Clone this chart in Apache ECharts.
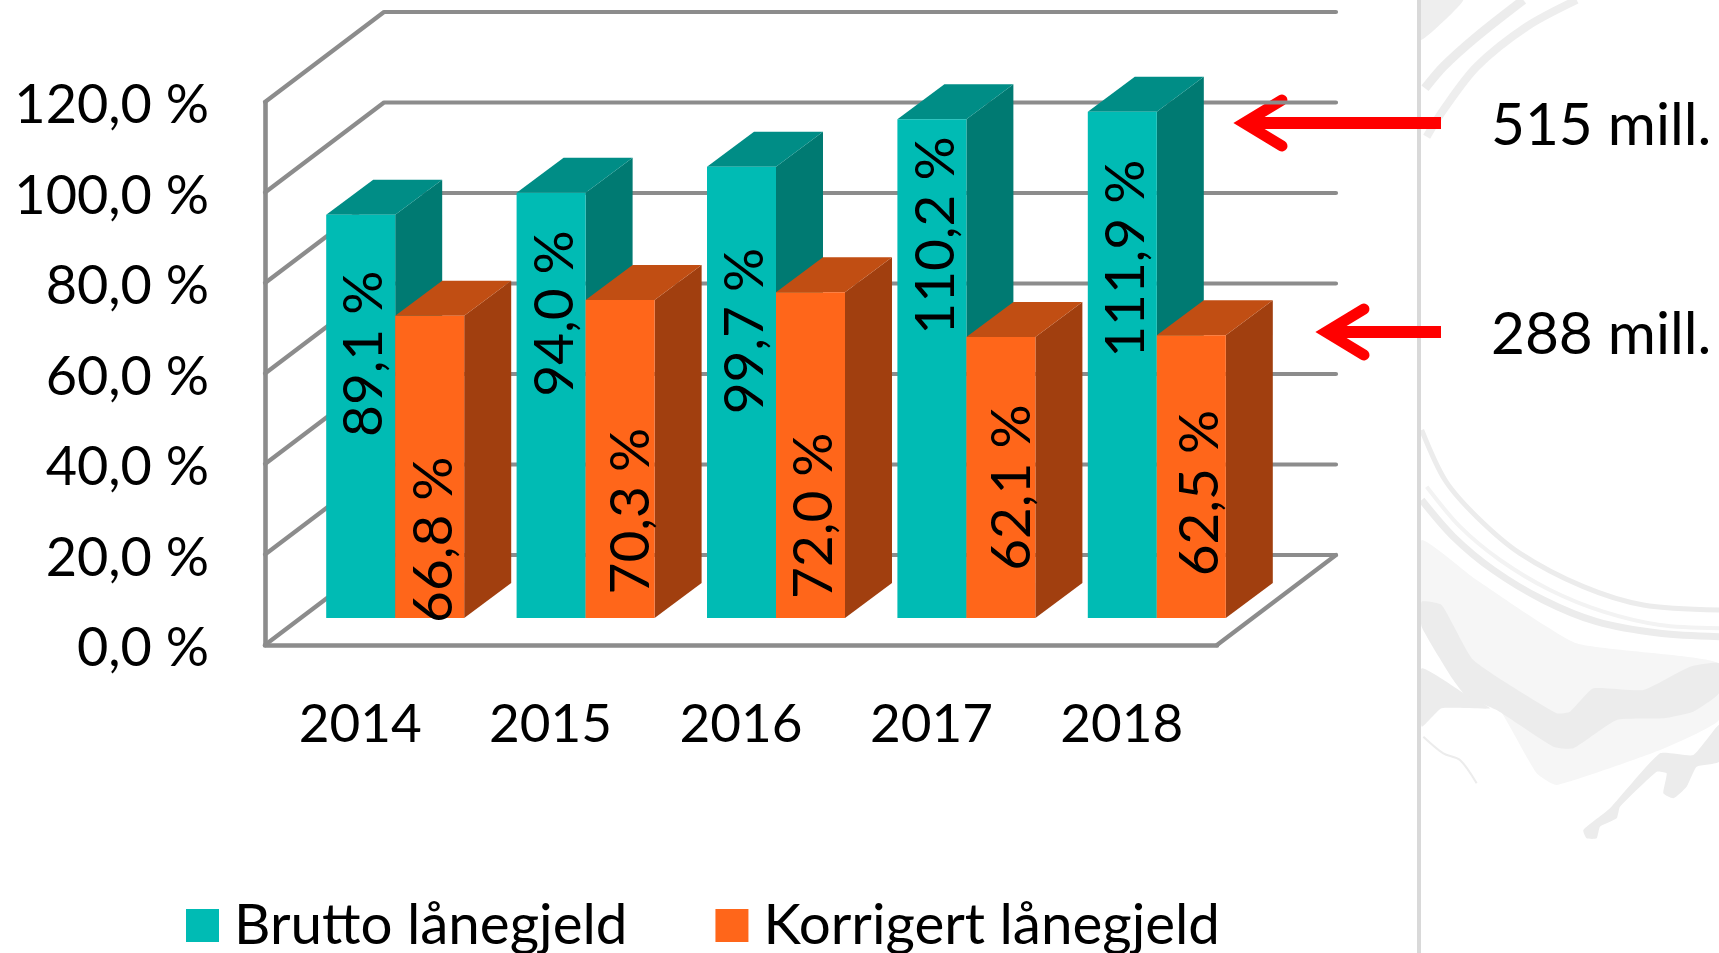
<!DOCTYPE html>
<html>
<head>
<meta charset="utf-8">
<title>Lånegjeld</title>
<script src="https://cdn.jsdelivr.net/npm/echarts@6/dist/echarts.min.js"></script>
<style>
  html, body { margin: 0; padding: 0; background: #fff; }
  #chart { width: 1719px; height: 953px; }
</style>
</head>
<body>
<div id="chart"></div>
<script>
const categories = ['2014', '2015', '2016', '2017', '2018']
const bruttoValues = [89.1, 94.0, 99.7, 110.2, 111.9]
const korrigertValues = [66.8, 70.3, 72.0, 62.1, 62.5]
const tickValues = [0, 20, 40, 60, 80, 100, 120]
const annotationTexts = ['515 mill.', '288 mill.']

// where the rotated labels sit, in axis units (hand placed in the original)
const bruttoLabelAt = [58.4, 67.3, 63.4, 84.5, 79.4]
const korrigertLabelAt = [17.3, 23.6, 22.6, 28.8, 27.6]
// sideways nudge of the same labels, in px
const bruttoLabelShift = [4, 4, 4, 4, 4]
const korrigertLabelShift = [5, 11, 4, 11, 9]

const FONT = 'Lato'
const FONT_SIZE = 55
const GRID = { left: 265, top: 102, width: 952, height: 543 }
const LINE = '#8c8c8c'
const WALL_DX = 119, WALL_DY = 90 // depth of the chart box
const BAR_DX = 35, BAR_DY = 27 // bars stand inside the box
const BAR_W = 69, DEPTH_DX = 47, DEPTH_DY = 35

const teal = { front: '#00bbb4', top: '#008d86', side: '#007a72' }
const orange = { front: '#ff661a', top: '#c14e13', side: '#a13f0f' }

const fmt = (v) => v.toFixed(1).replace('.', ',') + ' %'

const renderWall = (params, api) => {
  const p = api.coord([0, api.value(0)])
  const x0 = GRID.left
  const x1 = GRID.left + GRID.width
  const style = { stroke: LINE, lineWidth: 4.2, fill: null, lineCap: 'round', lineJoin: 'round' }
  const children = [{
    type: 'polyline',
    shape: { points: [[x0, p[1]], [x0 + WALL_DX, p[1] - WALL_DY], [x1 + WALL_DX, p[1] - WALL_DY]] },
    style
  }]
  // floor edge on the right
  if (api.value(0) === 0) {
    children.push({
      type: 'line',
      shape: { x1: x1, y1: p[1], x2: x1 + WALL_DX, y2: p[1] - WALL_DY },
      style
    })
  }
  return { type: 'group', children }
}

const barRender = (colors, side, labelAt, labelShift) => (params, api) => {
  const cat = api.value(0)
  const base = api.coord([cat, 0])
  const top = api.coord([cat, api.value(1)])
  const xl = base[0] + BAR_DX + (side < 0 ? -BAR_W : 0)
  const xr = xl + BAR_W
  const yb = base[1] - BAR_DY
  const yt = top[1] - BAR_DY
  const dx = DEPTH_DX, dy = DEPTH_DY
  const labelY = api.coord([cat, labelAt[params.dataIndex]])[1] - BAR_DY
  return {
    type: 'group',
    children: [
      { type: 'polygon', shape: { points: [[xr, yb], [xr + dx, yb - dy], [xr + dx, yt - dy], [xr, yt]] }, style: { fill: colors.side } },
      { type: 'polygon', shape: { points: [[xl, yt], [xl + dx, yt - dy], [xr + dx, yt - dy], [xr, yt]] }, style: { fill: colors.top } },
      { type: 'rect', shape: { x: xl, y: yt, width: BAR_W, height: yb - yt }, style: { fill: colors.front } },
      {
        type: 'text',
        x: (xl + xr) / 2 + labelShift[params.dataIndex],
        y: labelY,
        rotation: Math.PI / 2,
        style: { text: fmt(api.value(1)), fill: '#000', font: FONT_SIZE + 'px ' + FONT, align: 'center', verticalAlign: 'middle' }
      }
    ]
  }
}

// one red arrow pointing left
const arrow = (tipX, endX, y) => ({
  type: 'group',
  children: [
    { type: 'line', shape: { x1: tipX + 6, y1: y, x2: endX, y2: y }, style: { stroke: '#ff0000', lineWidth: 12 } },
    { type: 'polyline', shape: { points: [[tipX + 42, y - 23], [tipX + 4, y], [tipX + 42, y + 23]] }, style: { stroke: '#ff0000', lineWidth: 11, fill: null, lineCap: 'round', lineJoin: 'miter' } }
  ]
})

// faded brush-swirl decoration in the right panel, points read at 3x from x 1410, y 480 (top ones from y 0)
const pts = (list, y0) => list.map((p) => [1410 + p[0] / 3, y0 + p[1] / 3])
const swirlLine = (list, w, c, y0 = 480) => ({ type: 'polyline', silent: true, shape: { points: pts(list, y0), smooth: 0.3 }, style: { stroke: c || '#ececec', lineWidth: w, fill: null } })
const swirlBlob = (list, c, y0 = 480) => ({ type: 'polygon', silent: true, shape: { points: pts(list, y0), smooth: 0.15 }, style: { fill: c || '#ececec' } })
const decor = [
  swirlBlob([[33, 0], [160, 0], [33, 120]], '#eeeeee', 0),
  swirlLine([[45, 265], [100, 200], [200, 110], [340, 0]], 9, '#ececec', 0),
  swirlLine([[50, 410], [100, 330], [200, 200], [350, 80], [500, 0]], 8, '#eeeeee', 0),
  swirlBlob([[35, 180], [200, 300], [500, 490], [927, 550], [927, 720], [750, 810], [440, 915], [380, 880], [270, 690], [35, 400]], '#f6f6f6'),
  swirlLine([[35, -150], [105, 0], [200, 110], [330, 220], [520, 320], [700, 375], [927, 390]], 5),
  swirlLine([[35, 60], [130, 170], [250, 270], [400, 360], [560, 425], [750, 460], [927, 470]], 7),
  swirlLine([[50, 20], [150, 140], [270, 240], [420, 330], [580, 395], [750, 435], [927, 445]], 4, '#f3f3f3'),
  swirlBlob([[35, 365], [95, 375], [190, 540], [440, 700], [480, 695], [550, 625], [700, 630], [840, 560], [927, 550], [927, 640], [850, 695], [760, 715], [620, 720], [490, 805], [430, 800], [260, 690], [170, 650], [130, 600], [35, 440]]),
  swirlBlob([[35, 565], [170, 645], [240, 685], [95, 685], [35, 740]]),
  swirlLine([[40, 770], [100, 820], [150, 840], [200, 910]], 2),
  swirlBlob([[520, 1050], [600, 985], [750, 820], [850, 825], [927, 735], [927, 845], [860, 860], [830, 920], [790, 955], [760, 940], [770, 880], [740, 875], [630, 980], [620, 1015], [570, 1040], [560, 1075], [530, 1075]])
]

const charts = echarts.init(document.getElementById('chart'))
charts.setOption({
  animation: false,
  backgroundColor: '#fff',
  textStyle: { fontFamily: FONT },
  grid: GRID,
  legend: {
    left: 186,
    top: 897,
    padding: 0,
    itemWidth: 33,
    itemHeight: 33,
    itemGap: 88,
    icon: 'rect',
    textStyle: { fontSize: 56.5, fontFamily: FONT, color: '#000', padding: [0, 0, 0, 10] },
    data: ['Brutto lånegjeld', 'Korrigert lånegjeld']
  },
  xAxis: {
    type: 'category',
    data: categories,
    axisLine: { lineStyle: { color: LINE, width: 4.6 } },
    axisTick: { show: false },
    axisLabel: { fontSize: 53, fontFamily: FONT, color: '#000', margin: 53 }
  },
  yAxis: {
    type: 'value',
    min: 0,
    max: 120,
    interval: 20,
    axisLine: { show: true, lineStyle: { color: LINE, width: 4.6 } },
    axisTick: { show: false },
    splitLine: { show: false },
    axisLabel: { fontSize: 54, fontFamily: FONT, color: '#000', margin: 56, verticalAlign: 'top', padding: [-23, 0, 0, 0], formatter: fmt }
  },
  graphic: [
    ...decor,
    { type: 'rect', shape: { x: 1417, y: 0, width: 4, height: 953 }, style: { fill: '#d9d9d9' } },
    arrow(1240, 1441, 123),
    arrow(1322, 1441, 332),
    { type: 'text', x: 1491, y: 126, style: { text: annotationTexts[0], font: '58.5px ' + FONT, fill: '#000', verticalAlign: 'middle' } },
    { type: 'text', x: 1491, y: 335, style: { text: annotationTexts[1], font: '58.5px ' + FONT, fill: '#000', verticalAlign: 'middle' } }
  ],
  series: [
    {
      name: 'wall',
      type: 'custom',
      z: 1,
      silent: true,
      encode: { x: 1, y: 0 },
      data: tickValues.map((v) => [v]),
      renderItem: renderWall
    },
    {
      name: 'Brutto lånegjeld',
      type: 'custom',
      z: 2,
      itemStyle: { color: teal.front },
      encode: { x: 0, y: 1 },
      data: bruttoValues.map((v, i) => [i, v]),
      renderItem: barRender(teal, -1, bruttoLabelAt, bruttoLabelShift)
    },
    {
      name: 'Korrigert lånegjeld',
      type: 'custom',
      z: 3,
      itemStyle: { color: orange.front },
      encode: { x: 0, y: 1 },
      data: korrigertValues.map((v, i) => [i, v]),
      renderItem: barRender(orange, 1, korrigertLabelAt, korrigertLabelShift)
    }
  ]
})
</script>
</body>
</html>
